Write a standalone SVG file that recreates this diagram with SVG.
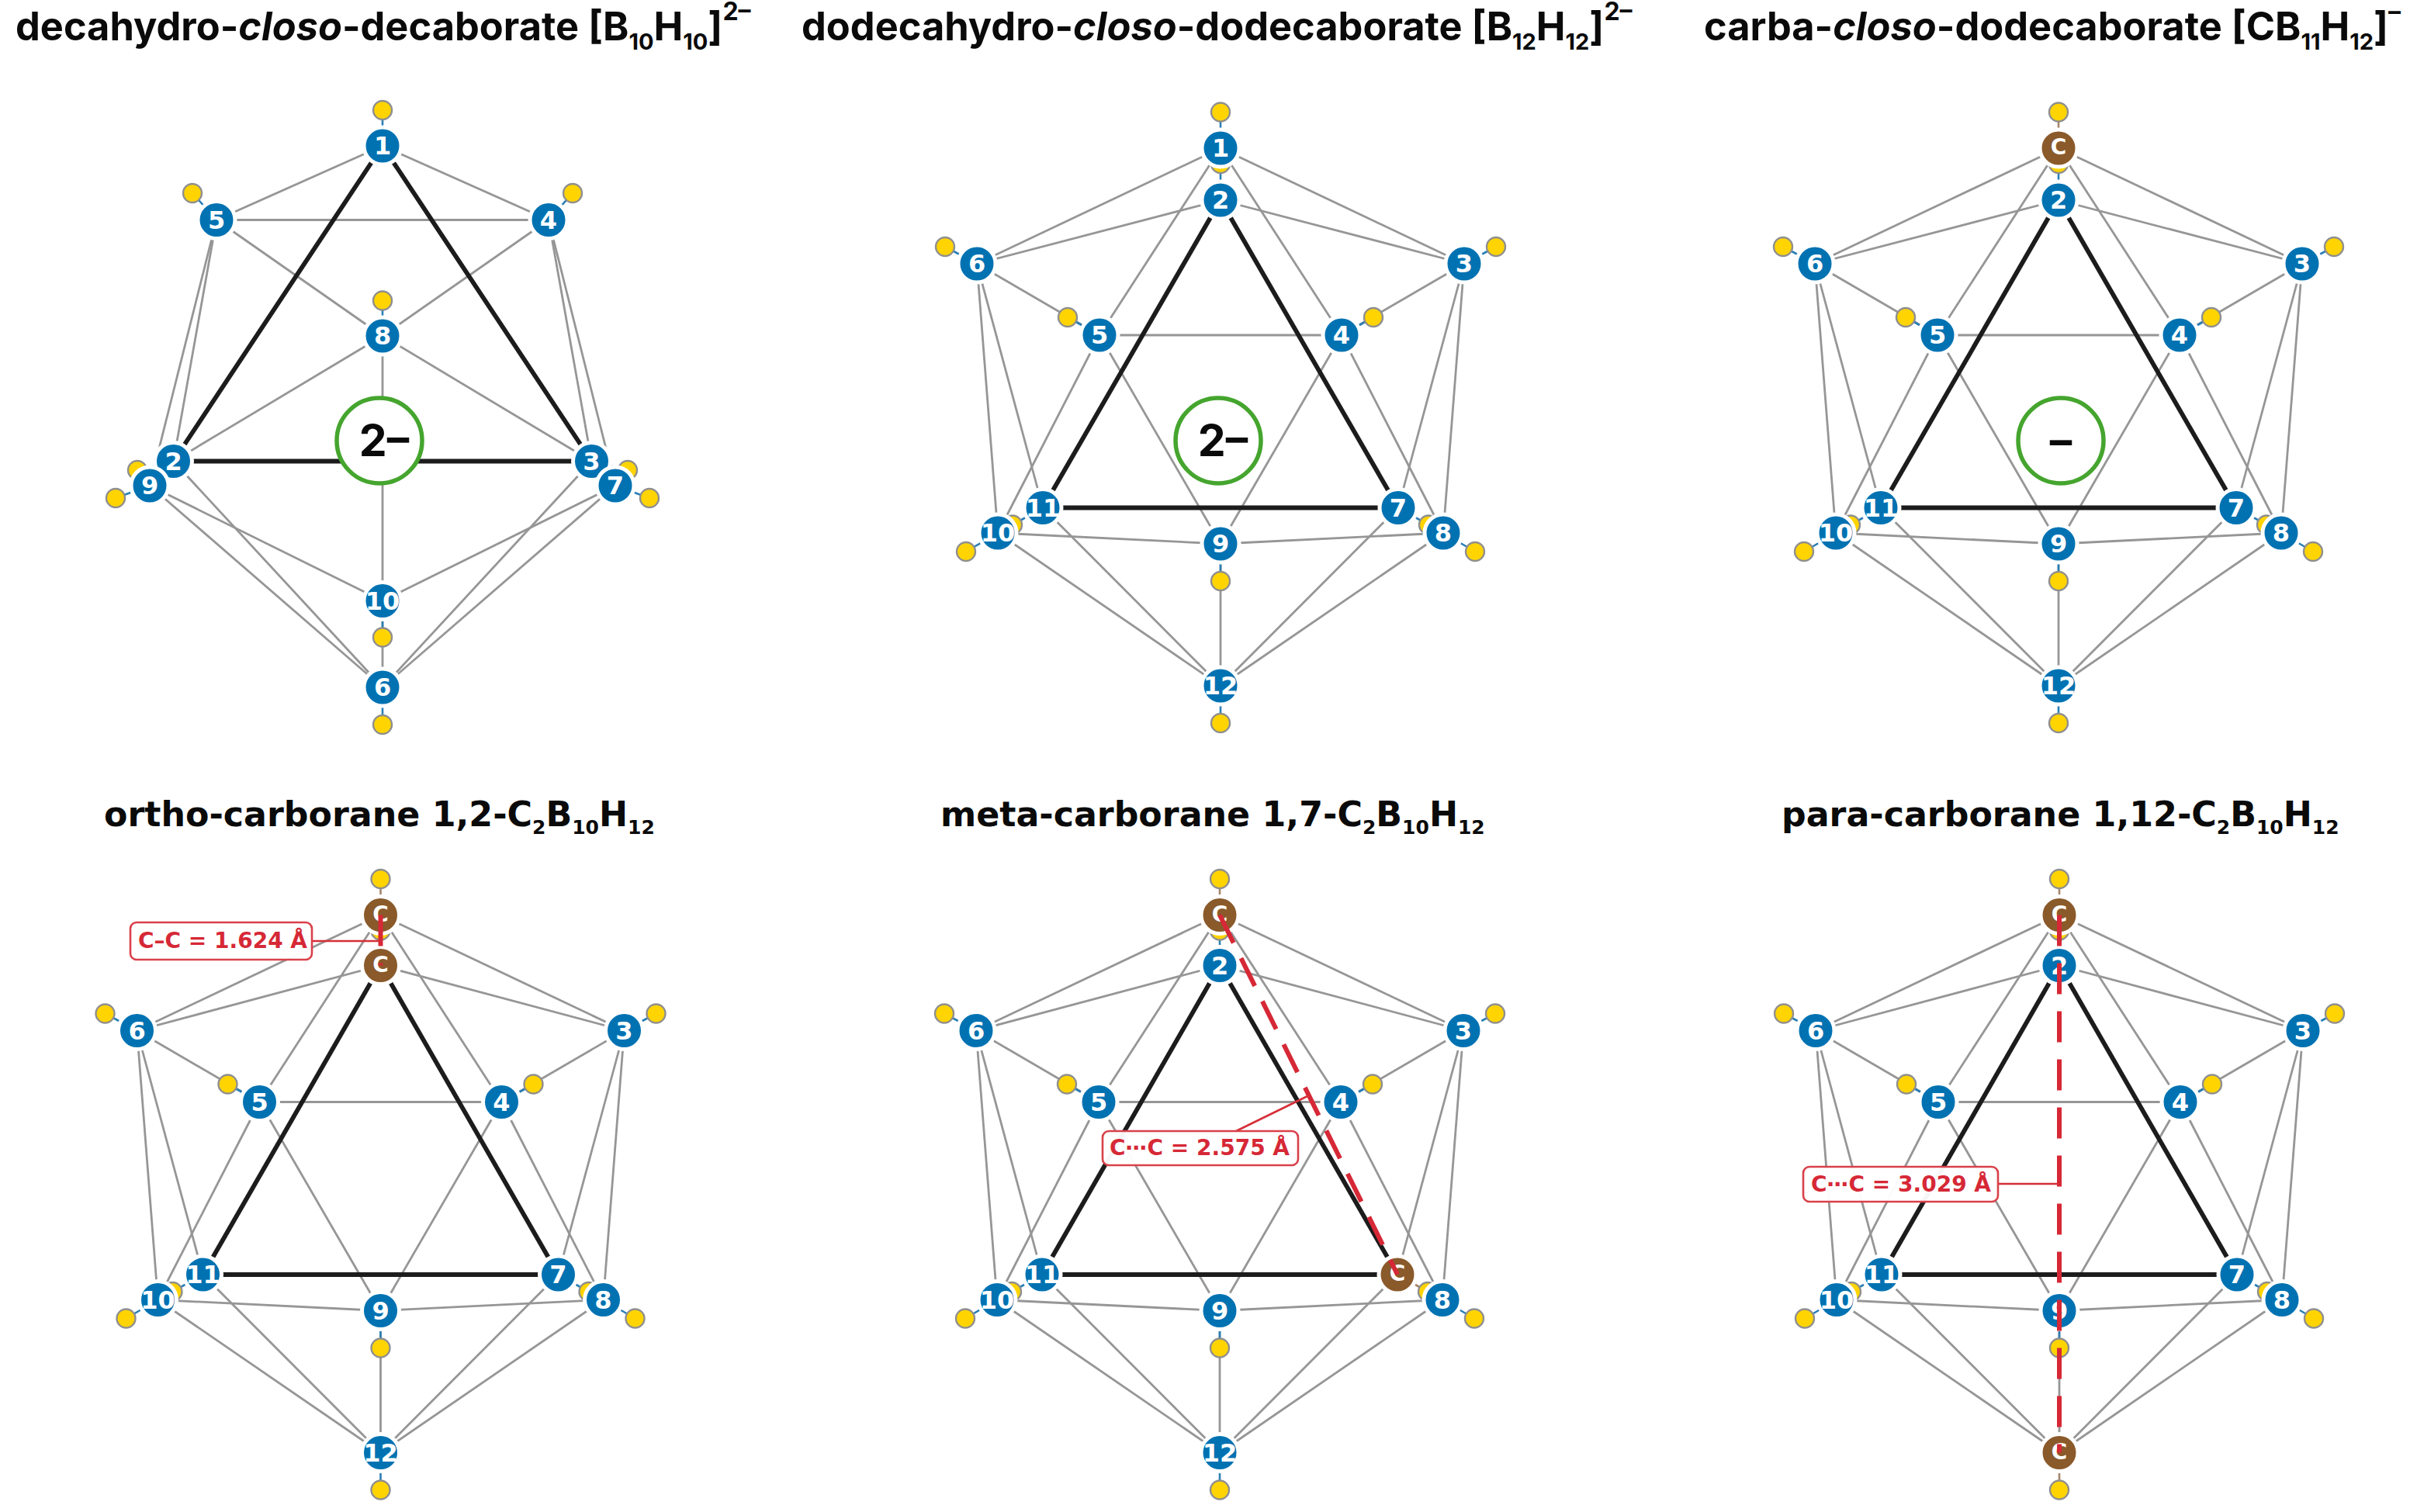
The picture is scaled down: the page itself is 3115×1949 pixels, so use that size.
<svg xmlns="http://www.w3.org/2000/svg" width="3115" height="1949" viewBox="0 0 3115 1949">
<style>
text{font-family:"DejaVu Sans","Liberation Sans",sans-serif;font-weight:700}
.tt{font-family:"Inter","Liberation Sans",sans-serif;font-size:50.5px;fill:#0a0a0a}
.bt{font-size:44.3px;fill:#0a0a0a}
.n{font-size:32px;fill:#fff;text-anchor:middle}
.c{font-size:28px;fill:#fff;text-anchor:middle}
.g line{stroke:#969696;stroke-width:2.8}
.k line{stroke:#1c1c1c;stroke-width:5.8}
.hb line{stroke:#2a7fb5;stroke-width:2.6}
.bb{fill:#0072b2;stroke:#fff;stroke-width:5}
.cc{fill:#8a5a2b;stroke:#fff;stroke-width:5}
.h{fill:#ffd400;stroke:#8f8f8f;stroke-width:2.4}
.ring{fill:#fff;stroke:#45a52e;stroke-width:5.5}
.ch{font-family:"Inter","Liberation Sans",sans-serif;font-size:57px;fill:#0a0a0a;text-anchor:middle}
.box{fill:#fff;fill-opacity:.96;stroke:#d9414a;stroke-width:2.6}
.lead{stroke:#d62f38;stroke-width:2.6;fill:none}
.dash{stroke:#d62836;stroke-width:6;stroke-dasharray:40 22;fill:none}
.lab{font-size:28px;fill:#d62836}
</style>

<g id="titles">
<text class="tt" x="20" y="52">decahydro-<tspan font-style="italic">closo</tspan>-decaborate [B<tspan font-size="29" dy="12">10</tspan><tspan dy="-12">H</tspan><tspan font-size="29" dy="12">10</tspan><tspan dy="-12">]</tspan><tspan font-size="32" dy="-26">2–</tspan></text>
<text class="tt" x="1033" y="52">dodecahydro-<tspan font-style="italic">closo</tspan>-dodecaborate [B<tspan font-size="29" dy="12">12</tspan><tspan dy="-12">H</tspan><tspan font-size="29" dy="12">12</tspan><tspan dy="-12">]</tspan><tspan font-size="32" dy="-26">2–</tspan></text>
<text class="tt" x="2196" y="52">carba-<tspan font-style="italic">closo</tspan>-dodecaborate [CB<tspan font-size="29" dy="12">11</tspan><tspan dy="-12">H</tspan><tspan font-size="29" dy="12">12</tspan><tspan dy="-12">]</tspan><tspan font-size="32" dy="-26">–</tspan></text>
<text class="bt" x="134" y="1065">ortho-carborane 1,2-C<tspan font-size="25" dy="10">2</tspan><tspan dy="-10">B</tspan><tspan font-size="25" dy="10">10</tspan><tspan dy="-10">H</tspan><tspan font-size="25" dy="10">12</tspan></text>
<text class="bt" x="1212" y="1065">meta-carborane 1,7-C<tspan font-size="25" dy="10">2</tspan><tspan dy="-10">B</tspan><tspan font-size="25" dy="10">10</tspan><tspan dy="-10">H</tspan><tspan font-size="25" dy="10">12</tspan></text>
<text class="bt" x="2296" y="1065">para-carborane 1,12-C<tspan font-size="25" dy="10">2</tspan><tspan dy="-10">B</tspan><tspan font-size="25" dy="10">10</tspan><tspan dy="-10">H</tspan><tspan font-size="25" dy="10">12</tspan></text>
</g>

<!-- Panel A -->
<g id="panel-a" transform="translate(493 0)">
<g id="a-connectors">
<g class="g">
<line x1="0" y1="188" x2="-214" y2="283.5"/><line x1="0" y1="188" x2="214" y2="283.5"/><line x1="-214" y1="283.5" x2="214" y2="283.5"/><line x1="-214" y1="283.5" x2="0" y2="433"/><line x1="214" y1="283.5" x2="0" y2="433"/><line x1="-214" y1="283.5" x2="-269.5" y2="594.5"/><line x1="-214" y1="283.5" x2="-300" y2="626"/><line x1="214" y1="283.5" x2="269.5" y2="594.5"/><line x1="214" y1="283.5" x2="300" y2="626"/><line x1="0" y1="433" x2="-269.5" y2="594.5"/><line x1="0" y1="433" x2="269.5" y2="594.5"/><line x1="0" y1="433" x2="0" y2="774.5"/><line x1="-269.5" y1="594.5" x2="0" y2="886"/><line x1="269.5" y1="594.5" x2="0" y2="886"/><line x1="-300" y1="626" x2="0" y2="886"/><line x1="300" y1="626" x2="0" y2="886"/><line x1="-300" y1="626" x2="0" y2="774.5"/><line x1="300" y1="626" x2="0" y2="774.5"/><line x1="0" y1="774.5" x2="0" y2="886"/>
</g>
<g class="k"><line x1="0" y1="188" x2="-269.5" y2="594.5"/><line x1="0" y1="188" x2="269.5" y2="594.5"/><line x1="-269.5" y1="594.5" x2="269.5" y2="594.5"/></g>
<g class="hb"><line x1="0" y1="142" x2="0" y2="188"/><line x1="-245" y1="249" x2="-214" y2="283.5"/><line x1="245" y1="249" x2="214" y2="283.5"/><line x1="0" y1="387.5" x2="0" y2="433"/><line x1="-316" y1="606" x2="-269.5" y2="594.5"/><line x1="316" y1="606" x2="269.5" y2="594.5"/><line x1="-344" y1="642" x2="-300" y2="626"/><line x1="344" y1="642" x2="300" y2="626"/><line x1="0" y1="821.5" x2="0" y2="774.5"/><line x1="0" y1="934" x2="0" y2="886"/></g>
</g>
<g id="a-h1"><circle class="h" cx="0" cy="142" r="12"/></g><g id="a-h5"><circle class="h" cx="-245" cy="249" r="12"/></g><g id="a-h4"><circle class="h" cx="245" cy="249" r="12"/></g><g id="a-h8"><circle class="h" cx="0" cy="387.5" r="12"/></g><g id="a-h2"><circle class="h" cx="-316" cy="606" r="12"/></g><g id="a-h3"><circle class="h" cx="316" cy="606" r="12"/></g><g id="a-h9"><circle class="h" cx="-344" cy="642" r="12"/></g><g id="a-h7"><circle class="h" cx="344" cy="642" r="12"/></g><g id="a-h10"><circle class="h" cx="0" cy="821.5" r="12"/></g><g id="a-h6"><circle class="h" cx="0" cy="934" r="12"/></g>
<g id="a-n1"><circle class="bb" cx="0" cy="188" r="24"/><text class="n" x="0" y="199">1</text></g>
<g id="a-n2"><circle class="bb" cx="-269.5" cy="594.5" r="24"/><text class="n" x="-269.5" y="605.5">2</text></g>
<g id="a-n3"><circle class="bb" cx="269.5" cy="594.5" r="24"/><text class="n" x="269.5" y="605.5">3</text></g>
<g id="a-n4"><circle class="bb" cx="214" cy="283.5" r="24"/><text class="n" x="214" y="294.5">4</text></g>
<g id="a-n5"><circle class="bb" cx="-214" cy="283.5" r="24"/><text class="n" x="-214" y="294.5">5</text></g>
<g id="a-n6"><circle class="bb" cx="0" cy="886" r="24"/><text class="n" x="0" y="897">6</text></g>
<g id="a-n7"><circle class="bb" cx="300" cy="626" r="24"/><text class="n" x="300" y="637">7</text></g>
<g id="a-n8"><circle class="bb" cx="0" cy="433" r="24"/><text class="n" x="0" y="444">8</text></g>
<g id="a-n9"><circle class="bb" cx="-300" cy="626" r="24"/><text class="n" x="-300" y="637">9</text></g>
<g id="a-n10"><circle class="bb" cx="0" cy="774.5" r="24"/><text class="n" x="0" y="785.5">10</text></g>
<g id="a-charge"><circle class="ring" cx="-4" cy="568" r="55"/><text class="ch" x="2" y="588">2–</text></g>
</g>

<!-- Panel B -->
<g id="panel-b" transform="translate(1573 0)">
<g id="b-connectors">
<g class="g">
<line x1="0" y1="191" x2="-314" y2="340"/><line x1="0" y1="191" x2="314" y2="340"/><line x1="0" y1="191" x2="-156" y2="432"/><line x1="0" y1="191" x2="156" y2="432"/><line x1="0" y1="258" x2="-314" y2="340"/><line x1="0" y1="258" x2="314" y2="340"/><line x1="-314" y1="340" x2="-156" y2="432"/><line x1="314" y1="340" x2="156" y2="432"/><line x1="-156" y1="432" x2="156" y2="432"/><line x1="-156" y1="432" x2="-287" y2="687"/><line x1="-156" y1="432" x2="0" y2="701"/><line x1="156" y1="432" x2="0" y2="701"/><line x1="156" y1="432" x2="287" y2="687"/><line x1="-314" y1="340" x2="-287" y2="687"/><line x1="-314" y1="340" x2="-229" y2="654.5"/><line x1="314" y1="340" x2="229" y2="654.5"/><line x1="314" y1="340" x2="287" y2="687"/><line x1="-287" y1="687" x2="0" y2="701"/><line x1="0" y1="701" x2="287" y2="687"/><line x1="-287" y1="687" x2="0" y2="884"/><line x1="-229" y1="654.5" x2="0" y2="884"/><line x1="229" y1="654.5" x2="0" y2="884"/><line x1="287" y1="687" x2="0" y2="884"/><line x1="0" y1="701" x2="0" y2="884"/>
</g>
<g class="k"><line x1="0" y1="258" x2="-229" y2="654.5"/><line x1="0" y1="258" x2="229" y2="654.5"/><line x1="-229" y1="654.5" x2="229" y2="654.5"/></g>
<g class="hb"><line x1="0" y1="144.5" x2="0" y2="191"/><line x1="0" y1="211" x2="0" y2="258"/><line x1="-355" y1="318" x2="-314" y2="340"/><line x1="355" y1="318" x2="314" y2="340"/><line x1="-197" y1="409" x2="-156" y2="432"/><line x1="197" y1="409" x2="156" y2="432"/><line x1="-268" y1="676.5" x2="-229" y2="654.5"/><line x1="268" y1="676.5" x2="229" y2="654.5"/><line x1="-328" y1="711" x2="-287" y2="687"/><line x1="328" y1="711" x2="287" y2="687"/><line x1="0" y1="749" x2="0" y2="701"/><line x1="0" y1="932" x2="0" y2="884"/></g>
</g>
<g id="b-h1"><circle class="h" cx="0" cy="144.5" r="12"/></g><g id="b-h2"><circle class="h" cx="0" cy="211" r="12"/></g><g id="b-h6"><circle class="h" cx="-355" cy="318" r="12"/></g><g id="b-h3"><circle class="h" cx="355" cy="318" r="12"/></g><g id="b-h5"><circle class="h" cx="-197" cy="409" r="12"/></g><g id="b-h4"><circle class="h" cx="197" cy="409" r="12"/></g><g id="b-h11"><circle class="h" cx="-268" cy="676.5" r="12"/></g><g id="b-h7"><circle class="h" cx="268" cy="676.5" r="12"/></g><g id="b-h10"><circle class="h" cx="-328" cy="711" r="12"/></g><g id="b-h8"><circle class="h" cx="328" cy="711" r="12"/></g><g id="b-h9"><circle class="h" cx="0" cy="749" r="12"/></g><g id="b-h12"><circle class="h" cx="0" cy="932" r="12"/></g>
<g id="b-n1"><circle class="bb" cx="0" cy="191" r="24"/><text class="n" x="0" y="202">1</text></g>
<g id="b-n2"><circle class="bb" cx="0" cy="258" r="24"/><text class="n" x="0" y="269">2</text></g>
<g id="b-n3"><circle class="bb" cx="314" cy="340" r="24"/><text class="n" x="314" y="351">3</text></g>
<g id="b-n4"><circle class="bb" cx="156" cy="432" r="24"/><text class="n" x="156" y="443">4</text></g>
<g id="b-n5"><circle class="bb" cx="-156" cy="432" r="24"/><text class="n" x="-156" y="443">5</text></g>
<g id="b-n6"><circle class="bb" cx="-314" cy="340" r="24"/><text class="n" x="-314" y="351">6</text></g>
<g id="b-n7"><circle class="bb" cx="229" cy="654.5" r="24"/><text class="n" x="229" y="665.5">7</text></g>
<g id="b-n8"><circle class="bb" cx="287" cy="687" r="24"/><text class="n" x="287" y="698">8</text></g>
<g id="b-n9"><circle class="bb" cx="0" cy="701" r="24"/><text class="n" x="0" y="712">9</text></g>
<g id="b-n10"><circle class="bb" cx="-287" cy="687" r="24"/><text class="n" x="-287" y="698">10</text></g>
<g id="b-n11"><circle class="bb" cx="-229" cy="654.5" r="24"/><text class="n" x="-229" y="665.5">11</text></g>
<g id="b-n12"><circle class="bb" cx="0" cy="884" r="24"/><text class="n" x="0" y="895">12</text></g>
<g id="b-charge"><circle class="ring" cx="-3" cy="568" r="55"/><text class="ch" x="3" y="588">2–</text></g>
</g>

<!-- Panel C -->
<g id="panel-c" transform="translate(2653 0)">
<g id="c-connectors">
<g class="g">
<line x1="0" y1="191" x2="-314" y2="340"/><line x1="0" y1="191" x2="314" y2="340"/><line x1="0" y1="191" x2="-156" y2="432"/><line x1="0" y1="191" x2="156" y2="432"/><line x1="0" y1="258" x2="-314" y2="340"/><line x1="0" y1="258" x2="314" y2="340"/><line x1="-314" y1="340" x2="-156" y2="432"/><line x1="314" y1="340" x2="156" y2="432"/><line x1="-156" y1="432" x2="156" y2="432"/><line x1="-156" y1="432" x2="-287" y2="687"/><line x1="-156" y1="432" x2="0" y2="701"/><line x1="156" y1="432" x2="0" y2="701"/><line x1="156" y1="432" x2="287" y2="687"/><line x1="-314" y1="340" x2="-287" y2="687"/><line x1="-314" y1="340" x2="-229" y2="654.5"/><line x1="314" y1="340" x2="229" y2="654.5"/><line x1="314" y1="340" x2="287" y2="687"/><line x1="-287" y1="687" x2="0" y2="701"/><line x1="0" y1="701" x2="287" y2="687"/><line x1="-287" y1="687" x2="0" y2="884"/><line x1="-229" y1="654.5" x2="0" y2="884"/><line x1="229" y1="654.5" x2="0" y2="884"/><line x1="287" y1="687" x2="0" y2="884"/><line x1="0" y1="701" x2="0" y2="884"/>
</g>
<g class="k"><line x1="0" y1="258" x2="-229" y2="654.5"/><line x1="0" y1="258" x2="229" y2="654.5"/><line x1="-229" y1="654.5" x2="229" y2="654.5"/></g>
<g class="hb"><line x1="0" y1="144.5" x2="0" y2="191" style="stroke:#a5866a"/><line x1="0" y1="211" x2="0" y2="258"/><line x1="-355" y1="318" x2="-314" y2="340"/><line x1="355" y1="318" x2="314" y2="340"/><line x1="-197" y1="409" x2="-156" y2="432"/><line x1="197" y1="409" x2="156" y2="432"/><line x1="-268" y1="676.5" x2="-229" y2="654.5"/><line x1="268" y1="676.5" x2="229" y2="654.5"/><line x1="-328" y1="711" x2="-287" y2="687"/><line x1="328" y1="711" x2="287" y2="687"/><line x1="0" y1="749" x2="0" y2="701"/><line x1="0" y1="932" x2="0" y2="884"/></g>
</g>
<g id="c-h1"><circle class="h" cx="0" cy="144.5" r="12"/></g><g id="c-h2"><circle class="h" cx="0" cy="211" r="12"/></g><g id="c-h6"><circle class="h" cx="-355" cy="318" r="12"/></g><g id="c-h3"><circle class="h" cx="355" cy="318" r="12"/></g><g id="c-h5"><circle class="h" cx="-197" cy="409" r="12"/></g><g id="c-h4"><circle class="h" cx="197" cy="409" r="12"/></g><g id="c-h11"><circle class="h" cx="-268" cy="676.5" r="12"/></g><g id="c-h7"><circle class="h" cx="268" cy="676.5" r="12"/></g><g id="c-h10"><circle class="h" cx="-328" cy="711" r="12"/></g><g id="c-h8"><circle class="h" cx="328" cy="711" r="12"/></g><g id="c-h9"><circle class="h" cx="0" cy="749" r="12"/></g><g id="c-h12"><circle class="h" cx="0" cy="932" r="12"/></g>
<g id="c-n1"><circle class="cc" cx="0" cy="191" r="24"/><text class="c" x="0" y="199">C</text></g>
<g id="c-n2"><circle class="bb" cx="0" cy="258" r="24"/><text class="n" x="0" y="269">2</text></g>
<g id="c-n3"><circle class="bb" cx="314" cy="340" r="24"/><text class="n" x="314" y="351">3</text></g>
<g id="c-n4"><circle class="bb" cx="156" cy="432" r="24"/><text class="n" x="156" y="443">4</text></g>
<g id="c-n5"><circle class="bb" cx="-156" cy="432" r="24"/><text class="n" x="-156" y="443">5</text></g>
<g id="c-n6"><circle class="bb" cx="-314" cy="340" r="24"/><text class="n" x="-314" y="351">6</text></g>
<g id="c-n7"><circle class="bb" cx="229" cy="654.5" r="24"/><text class="n" x="229" y="665.5">7</text></g>
<g id="c-n8"><circle class="bb" cx="287" cy="687" r="24"/><text class="n" x="287" y="698">8</text></g>
<g id="c-n9"><circle class="bb" cx="0" cy="701" r="24"/><text class="n" x="0" y="712">9</text></g>
<g id="c-n10"><circle class="bb" cx="-287" cy="687" r="24"/><text class="n" x="-287" y="698">10</text></g>
<g id="c-n11"><circle class="bb" cx="-229" cy="654.5" r="24"/><text class="n" x="-229" y="665.5">11</text></g>
<g id="c-n12"><circle class="bb" cx="0" cy="884" r="24"/><text class="n" x="0" y="895">12</text></g>
<g id="c-charge"><circle class="ring" cx="3" cy="568" r="55"/><text class="ch" x="3" y="588">–</text></g>
</g>

<!-- Panel D -->
<g id="panel-d" transform="translate(490.5 988.5)">
<g id="d-connectors">
<g class="g">
<line x1="0" y1="191" x2="-314" y2="340"/><line x1="0" y1="191" x2="314" y2="340"/><line x1="0" y1="191" x2="-156" y2="432"/><line x1="0" y1="191" x2="156" y2="432"/><line x1="0" y1="256" x2="-314" y2="340"/><line x1="0" y1="256" x2="314" y2="340"/><line x1="-314" y1="340" x2="-156" y2="432"/><line x1="314" y1="340" x2="156" y2="432"/><line x1="-156" y1="432" x2="156" y2="432"/><line x1="-156" y1="432" x2="-287" y2="687"/><line x1="-156" y1="432" x2="0" y2="701"/><line x1="156" y1="432" x2="0" y2="701"/><line x1="156" y1="432" x2="287" y2="687"/><line x1="-314" y1="340" x2="-287" y2="687"/><line x1="-314" y1="340" x2="-229" y2="654.5"/><line x1="314" y1="340" x2="229" y2="654.5"/><line x1="314" y1="340" x2="287" y2="687"/><line x1="-287" y1="687" x2="0" y2="701"/><line x1="0" y1="701" x2="287" y2="687"/><line x1="-287" y1="687" x2="0" y2="884"/><line x1="-229" y1="654.5" x2="0" y2="884"/><line x1="229" y1="654.5" x2="0" y2="884"/><line x1="287" y1="687" x2="0" y2="884"/><line x1="0" y1="701" x2="0" y2="884"/>
</g>
<g class="k"><line x1="0" y1="256" x2="-229" y2="654.5"/><line x1="0" y1="256" x2="229" y2="654.5"/><line x1="-229" y1="654.5" x2="229" y2="654.5"/></g>
<g class="hb"><line x1="0" y1="144.5" x2="0" y2="191" style="stroke:#a5866a"/><line x1="0" y1="211" x2="0" y2="256" style="stroke:#a5866a"/><line x1="-355" y1="318" x2="-314" y2="340"/><line x1="355" y1="318" x2="314" y2="340"/><line x1="-197" y1="409" x2="-156" y2="432"/><line x1="197" y1="409" x2="156" y2="432"/><line x1="-268" y1="676.5" x2="-229" y2="654.5"/><line x1="268" y1="676.5" x2="229" y2="654.5"/><line x1="-328" y1="711" x2="-287" y2="687"/><line x1="328" y1="711" x2="287" y2="687"/><line x1="0" y1="749" x2="0" y2="701"/><line x1="0" y1="932" x2="0" y2="884"/></g>
</g>
<g id="d-h1"><circle class="h" cx="0" cy="144.5" r="12"/></g><g id="d-h2"><circle class="h" cx="0" cy="211" r="12"/></g><g id="d-h6"><circle class="h" cx="-355" cy="318" r="12"/></g><g id="d-h3"><circle class="h" cx="355" cy="318" r="12"/></g><g id="d-h5"><circle class="h" cx="-197" cy="409" r="12"/></g><g id="d-h4"><circle class="h" cx="197" cy="409" r="12"/></g><g id="d-h11"><circle class="h" cx="-268" cy="676.5" r="12"/></g><g id="d-h7"><circle class="h" cx="268" cy="676.5" r="12"/></g><g id="d-h10"><circle class="h" cx="-328" cy="711" r="12"/></g><g id="d-h8"><circle class="h" cx="328" cy="711" r="12"/></g><g id="d-h9"><circle class="h" cx="0" cy="749" r="12"/></g><g id="d-h12"><circle class="h" cx="0" cy="932" r="12"/></g>
<g id="d-n1"><circle class="cc" cx="0" cy="191" r="24"/><text class="c" x="0" y="199">C</text></g>
<g id="d-n2"><circle class="cc" cx="0" cy="256" r="24"/><text class="c" x="0" y="264">C</text></g>
<g id="d-n3"><circle class="bb" cx="314" cy="340" r="24"/><text class="n" x="314" y="351">3</text></g>
<g id="d-n4"><circle class="bb" cx="156" cy="432" r="24"/><text class="n" x="156" y="443">4</text></g>
<g id="d-n5"><circle class="bb" cx="-156" cy="432" r="24"/><text class="n" x="-156" y="443">5</text></g>
<g id="d-n6"><circle class="bb" cx="-314" cy="340" r="24"/><text class="n" x="-314" y="351">6</text></g>
<g id="d-n7"><circle class="bb" cx="229" cy="654.5" r="24"/><text class="n" x="229" y="665.5">7</text></g>
<g id="d-n8"><circle class="bb" cx="287" cy="687" r="24"/><text class="n" x="287" y="698">8</text></g>
<g id="d-n9"><circle class="bb" cx="0" cy="701" r="24"/><text class="n" x="0" y="712">9</text></g>
<g id="d-n10"><circle class="bb" cx="-287" cy="687" r="24"/><text class="n" x="-287" y="698">10</text></g>
<g id="d-n11"><circle class="bb" cx="-229" cy="654.5" r="24"/><text class="n" x="-229" y="665.5">11</text></g>
<g id="d-n12"><circle class="bb" cx="0" cy="884" r="24"/><text class="n" x="0" y="895">12</text></g>
<line class="dash" x1="0" y1="191" x2="0" y2="256"/>
</g>
<g id="d-label"><path class="lead" d="M402 1213H490.5"/><rect class="box" x="168" y="1189" width="234" height="48" rx="8"/><text class="lab" x="178" y="1222">C–C = 1.624 Å</text></g>

<!-- Panel E -->
<g id="panel-e" transform="translate(1572 988.5)">
<g id="e-connectors">
<g class="g">
<line x1="0" y1="191" x2="-314" y2="340"/><line x1="0" y1="191" x2="314" y2="340"/><line x1="0" y1="191" x2="-156" y2="432"/><line x1="0" y1="191" x2="156" y2="432"/><line x1="0" y1="256" x2="-314" y2="340"/><line x1="0" y1="256" x2="314" y2="340"/><line x1="-314" y1="340" x2="-156" y2="432"/><line x1="314" y1="340" x2="156" y2="432"/><line x1="-156" y1="432" x2="156" y2="432"/><line x1="-156" y1="432" x2="-287" y2="687"/><line x1="-156" y1="432" x2="0" y2="701"/><line x1="156" y1="432" x2="0" y2="701"/><line x1="156" y1="432" x2="287" y2="687"/><line x1="-314" y1="340" x2="-287" y2="687"/><line x1="-314" y1="340" x2="-229" y2="654.5"/><line x1="314" y1="340" x2="229" y2="654.5"/><line x1="314" y1="340" x2="287" y2="687"/><line x1="-287" y1="687" x2="0" y2="701"/><line x1="0" y1="701" x2="287" y2="687"/><line x1="-287" y1="687" x2="0" y2="884"/><line x1="-229" y1="654.5" x2="0" y2="884"/><line x1="229" y1="654.5" x2="0" y2="884"/><line x1="287" y1="687" x2="0" y2="884"/><line x1="0" y1="701" x2="0" y2="884"/>
</g>
<g class="k"><line x1="0" y1="256" x2="-229" y2="654.5"/><line x1="0" y1="256" x2="229" y2="654.5"/><line x1="-229" y1="654.5" x2="229" y2="654.5"/></g>
<g class="hb"><line x1="0" y1="144.5" x2="0" y2="191" style="stroke:#a5866a"/><line x1="0" y1="211" x2="0" y2="256"/><line x1="-355" y1="318" x2="-314" y2="340"/><line x1="355" y1="318" x2="314" y2="340"/><line x1="-197" y1="409" x2="-156" y2="432"/><line x1="197" y1="409" x2="156" y2="432"/><line x1="-268" y1="676.5" x2="-229" y2="654.5"/><line x1="268" y1="676.5" x2="229" y2="654.5" style="stroke:#a5866a"/><line x1="-328" y1="711" x2="-287" y2="687"/><line x1="328" y1="711" x2="287" y2="687"/><line x1="0" y1="749" x2="0" y2="701"/><line x1="0" y1="932" x2="0" y2="884"/></g>
</g>
<g id="e-h1"><circle class="h" cx="0" cy="144.5" r="12"/></g><g id="e-h2"><circle class="h" cx="0" cy="211" r="12"/></g><g id="e-h6"><circle class="h" cx="-355" cy="318" r="12"/></g><g id="e-h3"><circle class="h" cx="355" cy="318" r="12"/></g><g id="e-h5"><circle class="h" cx="-197" cy="409" r="12"/></g><g id="e-h4"><circle class="h" cx="197" cy="409" r="12"/></g><g id="e-h11"><circle class="h" cx="-268" cy="676.5" r="12"/></g><g id="e-h7"><circle class="h" cx="268" cy="676.5" r="12"/></g><g id="e-h10"><circle class="h" cx="-328" cy="711" r="12"/></g><g id="e-h8"><circle class="h" cx="328" cy="711" r="12"/></g><g id="e-h9"><circle class="h" cx="0" cy="749" r="12"/></g><g id="e-h12"><circle class="h" cx="0" cy="932" r="12"/></g>
<g id="e-n1"><circle class="cc" cx="0" cy="191" r="24"/><text class="c" x="0" y="199">C</text></g>
<g id="e-n2"><circle class="bb" cx="0" cy="256" r="24"/><text class="n" x="0" y="267">2</text></g>
<g id="e-n3"><circle class="bb" cx="314" cy="340" r="24"/><text class="n" x="314" y="351">3</text></g>
<g id="e-n4"><circle class="bb" cx="156" cy="432" r="24"/><text class="n" x="156" y="443">4</text></g>
<g id="e-n5"><circle class="bb" cx="-156" cy="432" r="24"/><text class="n" x="-156" y="443">5</text></g>
<g id="e-n6"><circle class="bb" cx="-314" cy="340" r="24"/><text class="n" x="-314" y="351">6</text></g>
<g id="e-n7"><circle class="cc" cx="229" cy="654.5" r="24"/><text class="c" x="229" y="662.5">C</text></g>
<g id="e-n8"><circle class="bb" cx="287" cy="687" r="24"/><text class="n" x="287" y="698">8</text></g>
<g id="e-n9"><circle class="bb" cx="0" cy="701" r="24"/><text class="n" x="0" y="712">9</text></g>
<g id="e-n10"><circle class="bb" cx="-287" cy="687" r="24"/><text class="n" x="-287" y="698">10</text></g>
<g id="e-n11"><circle class="bb" cx="-229" cy="654.5" r="24"/><text class="n" x="-229" y="665.5">11</text></g>
<g id="e-n12"><circle class="bb" cx="0" cy="884" r="24"/><text class="n" x="0" y="895">12</text></g>
<line class="dash" x1="0" y1="191" x2="229" y2="654.5"/>
</g>
<g id="e-label"><path class="lead" d="M1593 1458L1687 1412"/><rect class="box" x="1421" y="1458" width="252" height="44" rx="8"/><text class="lab" x="1430" y="1489">C⋯C = 2.575 Å</text></g>

<!-- Panel F -->
<g id="panel-f" transform="translate(2654 988.5)">
<g id="f-connectors">
<g class="g">
<line x1="0" y1="191" x2="-314" y2="340"/><line x1="0" y1="191" x2="314" y2="340"/><line x1="0" y1="191" x2="-156" y2="432"/><line x1="0" y1="191" x2="156" y2="432"/><line x1="0" y1="256" x2="-314" y2="340"/><line x1="0" y1="256" x2="314" y2="340"/><line x1="-314" y1="340" x2="-156" y2="432"/><line x1="314" y1="340" x2="156" y2="432"/><line x1="-156" y1="432" x2="156" y2="432"/><line x1="-156" y1="432" x2="-287" y2="687"/><line x1="-156" y1="432" x2="0" y2="701"/><line x1="156" y1="432" x2="0" y2="701"/><line x1="156" y1="432" x2="287" y2="687"/><line x1="-314" y1="340" x2="-287" y2="687"/><line x1="-314" y1="340" x2="-229" y2="654.5"/><line x1="314" y1="340" x2="229" y2="654.5"/><line x1="314" y1="340" x2="287" y2="687"/><line x1="-287" y1="687" x2="0" y2="701"/><line x1="0" y1="701" x2="287" y2="687"/><line x1="-287" y1="687" x2="0" y2="884"/><line x1="-229" y1="654.5" x2="0" y2="884"/><line x1="229" y1="654.5" x2="0" y2="884"/><line x1="287" y1="687" x2="0" y2="884"/><line x1="0" y1="701" x2="0" y2="884"/>
</g>
<g class="k"><line x1="0" y1="256" x2="-229" y2="654.5"/><line x1="0" y1="256" x2="229" y2="654.5"/><line x1="-229" y1="654.5" x2="229" y2="654.5"/></g>
<g class="hb"><line x1="0" y1="144.5" x2="0" y2="191" style="stroke:#a5866a"/><line x1="0" y1="211" x2="0" y2="256"/><line x1="-355" y1="318" x2="-314" y2="340"/><line x1="355" y1="318" x2="314" y2="340"/><line x1="-197" y1="409" x2="-156" y2="432"/><line x1="197" y1="409" x2="156" y2="432"/><line x1="-268" y1="676.5" x2="-229" y2="654.5"/><line x1="268" y1="676.5" x2="229" y2="654.5"/><line x1="-328" y1="711" x2="-287" y2="687"/><line x1="328" y1="711" x2="287" y2="687"/><line x1="0" y1="749" x2="0" y2="701"/><line x1="0" y1="932" x2="0" y2="884" style="stroke:#a5866a"/></g>
</g>
<g id="f-h1"><circle class="h" cx="0" cy="144.5" r="12"/></g><g id="f-h2"><circle class="h" cx="0" cy="211" r="12"/></g><g id="f-h6"><circle class="h" cx="-355" cy="318" r="12"/></g><g id="f-h3"><circle class="h" cx="355" cy="318" r="12"/></g><g id="f-h5"><circle class="h" cx="-197" cy="409" r="12"/></g><g id="f-h4"><circle class="h" cx="197" cy="409" r="12"/></g><g id="f-h11"><circle class="h" cx="-268" cy="676.5" r="12"/></g><g id="f-h7"><circle class="h" cx="268" cy="676.5" r="12"/></g><g id="f-h10"><circle class="h" cx="-328" cy="711" r="12"/></g><g id="f-h8"><circle class="h" cx="328" cy="711" r="12"/></g><g id="f-h9"><circle class="h" cx="0" cy="749" r="12"/></g><g id="f-h12"><circle class="h" cx="0" cy="932" r="12"/></g>
<g id="f-n1"><circle class="cc" cx="0" cy="191" r="24"/><text class="c" x="0" y="199">C</text></g>
<g id="f-n2"><circle class="bb" cx="0" cy="256" r="24"/><text class="n" x="0" y="267">2</text></g>
<g id="f-n3"><circle class="bb" cx="314" cy="340" r="24"/><text class="n" x="314" y="351">3</text></g>
<g id="f-n4"><circle class="bb" cx="156" cy="432" r="24"/><text class="n" x="156" y="443">4</text></g>
<g id="f-n5"><circle class="bb" cx="-156" cy="432" r="24"/><text class="n" x="-156" y="443">5</text></g>
<g id="f-n6"><circle class="bb" cx="-314" cy="340" r="24"/><text class="n" x="-314" y="351">6</text></g>
<g id="f-n7"><circle class="bb" cx="229" cy="654.5" r="24"/><text class="n" x="229" y="665.5">7</text></g>
<g id="f-n8"><circle class="bb" cx="287" cy="687" r="24"/><text class="n" x="287" y="698">8</text></g>
<g id="f-n9"><circle class="bb" cx="0" cy="701" r="24"/><text class="n" x="0" y="712">9</text></g>
<g id="f-n10"><circle class="bb" cx="-287" cy="687" r="24"/><text class="n" x="-287" y="698">10</text></g>
<g id="f-n11"><circle class="bb" cx="-229" cy="654.5" r="24"/><text class="n" x="-229" y="665.5">11</text></g>
<g id="f-n12"><circle class="cc" cx="0" cy="884" r="24"/><text class="c" x="0" y="892">C</text></g>
<line class="dash" x1="0" y1="191" x2="0" y2="884"/>
</g>
<g id="f-label"><path class="lead" d="M2575 1526H2654"/><rect class="box" x="2324" y="1504" width="251" height="45" rx="8"/><text class="lab" x="2334" y="1536">C⋯C = 3.029 Å</text></g>
</svg>
